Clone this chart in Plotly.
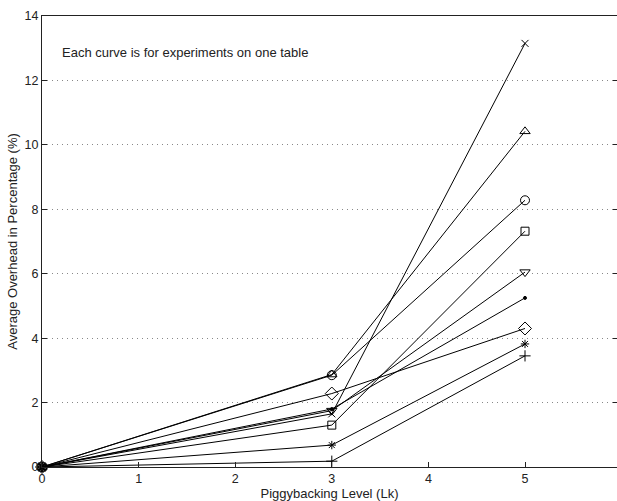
import plotly.graph_objects as go

levels = [0, 3, 5]
series_names = ["x", "triangle-up", "circle", "square", "triangle-down", "dot", "diamond", "star", "plus"]
vals_x = [0, 1.65, 13.15]
vals_tri_up = [0, 2.87, 10.42]
vals_circle = [0, 2.85, 8.28]
vals_square = [0, 1.30, 7.32]
vals_tri_down = [0, 1.75, 6.05]
vals_dot = [0, 1.80, 5.25]
vals_diamond = [0, 2.28, 4.30]
vals_star = [0, 0.68, 3.82]
vals_plus = [0, 0.18, 3.45]

y_ticks = [0, 2, 4, 6, 8, 10, 12, 14]
x_ticks = [0, 1, 2, 3, 4, 5, 6]
note_text = "Each curve is for experiments on one table"

series = [
    (vals_x, "x-thin-open", 7),
    (vals_tri_up, "triangle-up-open", 9),
    (vals_circle, "circle-open", 9),
    (vals_square, "square-open", 8),
    (vals_tri_down, "triangle-down-open", 9),
    (vals_dot, "circle", 3),
    (vals_diamond, "diamond-open", 10),
    (vals_star, "asterisk-open", 7),
    (vals_plus, "cross-thin-open", 8),
]

fig = go.Figure()
for (vals, sym, sz), name in zip(series, series_names):
    fig.add_trace(go.Scatter(
        x=levels, y=vals, mode="lines+markers", name=name,
        line=dict(color="black", width=1),
        marker=dict(symbol=sym, size=sz, color="black",
                    line=dict(color="black", width=1)),
        showlegend=False, cliponaxis=False,
    ))

# invisible trace for right-side tick marks
fig.add_trace(go.Scatter(x=[0], y=[0], yaxis="y2", mode="markers",
                         marker=dict(opacity=0), showlegend=False, hoverinfo="skip"))

fig.add_annotation(x=0.19, y=12.87, text=note_text, showarrow=False,
                   xanchor="left", yanchor="middle",
                   font=dict(family="Liberation Sans, Arial", size=13, color="#222"))

W, H = 617, 501
l, t, b, r = 42, 16, 34, 0
xmax = (W - l) / 96.6

fig.update_layout(
    width=W, height=H,
    margin=dict(l=l, r=r, t=t, b=b, pad=0),
    plot_bgcolor="white", paper_bgcolor="white",
    font=dict(family="Liberation Sans, Arial", size=13, color="#222"),
    xaxis=dict(
        range=[0, xmax], tickmode="array", tickvals=x_ticks,
        ticks="inside", ticklen=5, tickcolor="#222",
        showline=True, linecolor="#222", linewidth=1, mirror=True,
        showgrid=False, zeroline=False,
        tickfont=dict(size=12.5, color="#222"),
        title=dict(text="Piggybacking Level (Lk)", font=dict(size=13, color="#222"), standoff=1),
    ),
    yaxis=dict(
        range=[0, 14], tickmode="array", tickvals=y_ticks,
        ticks="inside", ticklen=5, tickcolor="#222",
        showline=True, linecolor="#222", linewidth=1, mirror=False,
        showgrid=True, gridcolor="#888", griddash="1px,4px", gridwidth=1,
        zeroline=False,
        tickfont=dict(size=12.5, color="#222"),
        title=dict(text="Average Overhead in Percentage (%)", font=dict(size=13, color="#222"), standoff=4),
    ),
    yaxis2=dict(
        range=[0, 14], tickmode="array", tickvals=y_ticks, overlaying="y", side="right",
        ticks="inside", ticklen=4, tickcolor="#222", showticklabels=False,
        showgrid=False, zeroline=False, showline=False,
    ),
)

fig.write_html("out.html")
